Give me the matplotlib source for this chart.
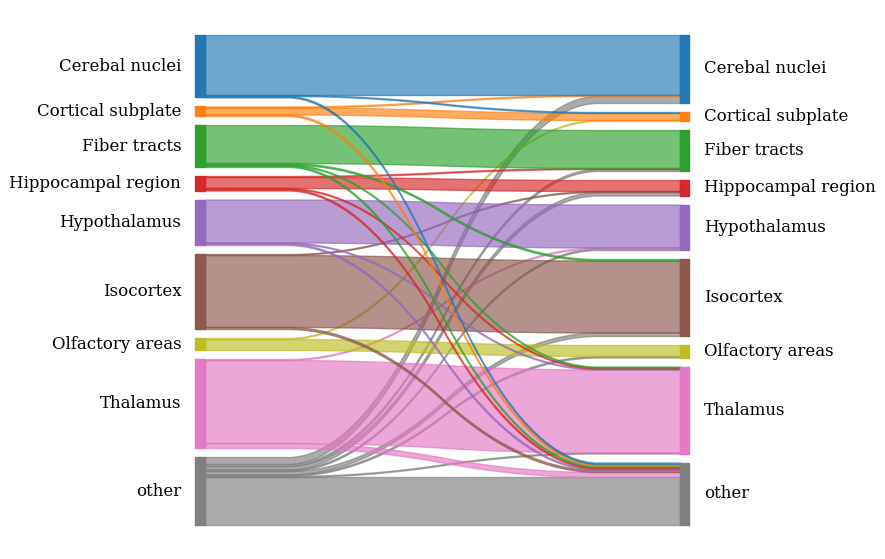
import numpy as np
import matplotlib
matplotlib.use("Agg")
import matplotlib.pyplot as plt

labels = ["Cerebal nuclei", "Cortical subplate", "Fiber tracts", "Hippocampal region",
          "Hypothalamus", "Isocortex", "Olfactory areas", "Thalamus", "other"]
colors = ["#1f77b4", "#ff7f0e", "#2ca02c", "#d62728", "#9467bd",
          "#8c564b", "#bcbd22", "#e377c2", "#7f7f7f"]

# flows: source index, target index, weight
sources = [0, 0, 0,
           1, 1, 1,
           2, 2, 2, 2,
           3, 3, 3, 3,
           4, 4, 4,
           5, 5, 5,
           6, 6,
           7, 7, 7,
           8, 8, 8, 8, 8, 8, 8, 8]
targets = [0, 1, 8,
           0, 1, 8,
           2, 5, 7, 8,
           2, 3, 7, 8,
           4, 7, 8,
           3, 5, 8,
           1, 6,
           4, 7, 8,
           0, 2, 3, 4, 5, 6, 7, 8]
weights = [60, 1, 1.5,
           1, 7, 1.5,
           38, 1.5, 1, 1.5,
           1, 11, 1, 1.5,
           43, 1, 1.5,
           1, 72, 2,
           1, 11,
           1, 83, 5,
           7, 2, 3.5, 1.5, 3.5, 1.5, 1, 48]

n = len(labels)
gap = 0.02 * sum(weights) * 1.08

# node extents (y grows downward)
def node_tops(totals):
    tops, y = [], 0.0
    for t in totals:
        tops.append(y)
        y += t + gap
    return tops

left_tot = [sum(w for s, w in zip(sources, weights) if s == i) for i in range(n)]
right_tot = [sum(w for t, w in zip(targets, weights) if t == i) for i in range(n)]
left_top = node_tops(left_tot)
right_top = node_tops(right_tot)
total_h = left_top[-1] + left_tot[-1]

fig = plt.figure(figsize=(8.85, 5.59), dpi=100)
ax = fig.add_axes([0, 0, 1, 1])
ax.axis("off")
W = 885.0
H = 559.0
x0, x1 = 205.0, 680.0
y0, y1 = 35.0, 525.0
sx = x1 - x0
ax.set_xlim(-x0 / sx, (W - x0) / sx)
sy = (y1 - y0) / total_h
ax.set_ylim((H - y0) / sy, -y0 / sy)

# flow offsets
lcur = list(left_top)
rcur = list(right_top)
flows = []
for s in range(n):
    for t in range(n):
        for fs, ft, w in zip(sources, targets, weights):
            if fs == s and ft == t:
                flows.append((s, t, w, lcur[s]))
                lcur[s] += w
rpos = {}
for t in range(n):
    for s in range(n):
        for fs, ft, w in zip(sources, targets, weights):
            if fs == s and ft == t:
                rpos[(s, t)] = rcur[t]
                rcur[t] += w

def smooth(a, b):
    ys = np.array(50 * [a] + 50 * [b], dtype=float)
    ys = np.convolve(ys, 0.05 * np.ones(20), mode="valid")
    ys = np.convolve(ys, 0.05 * np.ones(20), mode="valid")
    return ys

# draw flows (bottom sources first)
for s, t, w, ly in sorted(flows, key=lambda f: -f[0]):
    ry = rpos[(s, t)]
    top = smooth(ly, ry)
    bot = smooth(ly + w, ry + w)
    xs = np.linspace(0, 1, len(top))
    ax.fill_between(xs, top, bot, color=colors[s], alpha=0.65)

bw = 0.02
for i in range(n):
    ax.fill_between([-bw, 0], [left_top[i]] * 2, [left_top[i] + left_tot[i]] * 2,
                    color=colors[i], alpha=0.99)
    ax.fill_between([1, 1 + bw], [right_top[i]] * 2, [right_top[i] + right_tot[i]] * 2,
                    color=colors[i], alpha=0.99)
    ax.text(-0.05, left_top[i] + left_tot[i] / 2, labels[i], ha="right", va="center",
            fontsize=12, family="DejaVu Serif")
    ax.text(1.05, right_top[i] + right_tot[i] / 2, labels[i], ha="left", va="center",
            fontsize=12, family="DejaVu Serif")

fig.savefig("out.png", dpi=100)
